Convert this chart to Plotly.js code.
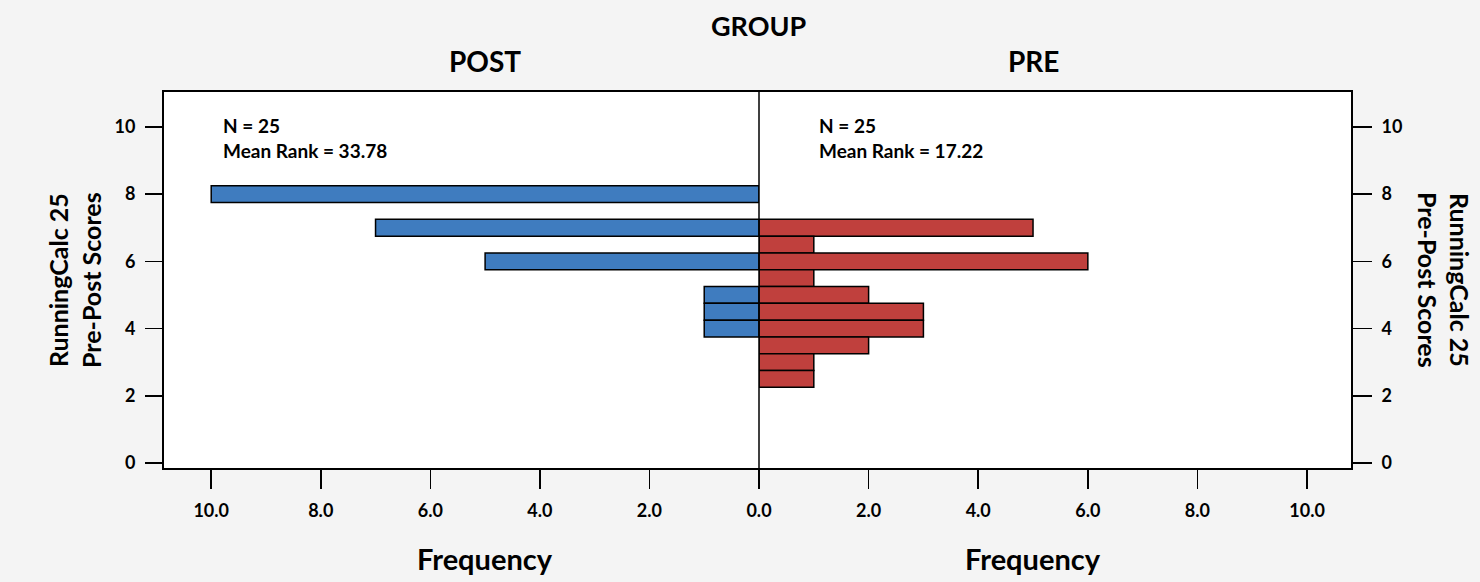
<!DOCTYPE html>
<html>
<head>
<meta charset="utf-8">
<script src="https://cdn.plot.ly/plotly-3.0.1.min.js"></script>
<style>html,body{margin:0;padding:0;background:#f4f4f4;}#chart{width:1480px;height:582px;}</style>
</head>
<body>
<div id="chart"></div>
<script>
// Bin centres (score) and frequencies
const postScores = [8, 7, 6, 5, 4.5, 4];
const postFreq   = [10, 7, 5, 1, 1, 1];
const preScores  = [7, 6.5, 6, 5.5, 5, 4.5, 4, 3.5, 3, 2.5];
const preFreq    = [5, 1, 6, 1, 2, 3, 3, 2, 1, 1];
const groups = ['POST', 'PRE'];
const nCounts = [25, 25];
const meanRanks = ['33.78', '17.22'];
const xTicks = [0, 2, 4, 6, 8, 10];
const yTicks = [0, 2, 4, 6, 8, 10];

const F = 'Lato, "Open Sans", sans-serif';
const bold = (size) => ({family: F, size: size, color: '#000', weight: 'bold'});

const traces = [
  {type: 'bar', orientation: 'h', y: postScores, x: postFreq, width: 0.5,
   xaxis: 'x', yaxis: 'y',
   marker: {color: '#3f7cbf', line: {color: '#000', width: 1.5}}, hoverinfo: 'skip'},
  {type: 'bar', orientation: 'h', y: preScores, x: preFreq, width: 0.5,
   xaxis: 'x2', yaxis: 'y',
   marker: {color: '#c0403d', line: {color: '#000', width: 1.5}}, hoverinfo: 'skip'},
  // invisible trace to carry the right y axis
  {type: 'scatter', x: [null], y: [null], xaxis: 'x2', yaxis: 'y2', showlegend: false, hoverinfo: 'skip'}
];

const split = (759 - 163) / 1189;
const yr = [-0.18, 11.07];

const layout = {
  width: 1480, height: 582,
  margin: {l: 163, r: 128, t: 91, b: 113},
  paper_bgcolor: '#f4f4f4', plot_bgcolor: '#ffffff',
  showlegend: false,
  bargap: 0,
  xaxis: {domain: [0, split], range: [10.88, 0], tickvals: xTicks, tickformat: '.1f',
          ticks: 'outside', ticklen: 19, tickwidth: 1.5, tickcolor: '#000', ticklabelstandoff: 6,
          showgrid: false, zeroline: false, showline: false, tickfont: bold(18), anchor: 'y'},
  xaxis2: {domain: [split, 1], range: [0, 10.82], tickvals: xTicks.slice(1), tickformat: '.1f',
          ticks: 'outside', ticklen: 19, tickwidth: 1.5, tickcolor: '#000', ticklabelstandoff: 6,
          showgrid: false, zeroline: false, showline: false, tickfont: bold(18), anchor: 'y'},
  yaxis: {range: yr, tickvals: yTicks, ticks: 'outside', ticklen: 17, tickwidth: 1.5, tickcolor: '#000',
          showgrid: false, zeroline: false, showline: false, tickfont: bold(18), ticklabelstandoff: 6},
  yaxis2: {range: yr, tickvals: yTicks, ticks: 'outside', ticklen: 19, tickwidth: 1.5, tickcolor: '#000',
          overlaying: 'y', side: 'right', anchor: 'x2',
          showgrid: false, zeroline: false, showline: false, tickfont: bold(18), ticklabelstandoff: 6},
  shapes: [
    {type: 'rect', xref: 'paper', yref: 'paper', x0: 0, x1: 1, y0: 0, y1: 1,
     line: {color: '#000', width: 2}, layer: 'above'},
    {type: 'line', xref: 'paper', yref: 'paper', x0: split, x1: split, y0: 0, y1: 1,
     line: {color: '#000', width: 1.5}, layer: 'above'}
  ],
  annotations: [
    {text: 'GROUP', xref: 'paper', yref: 'paper', x: split, y: 1, yshift: 66,
     showarrow: false, font: bold(27), xanchor: 'center', yanchor: 'middle'},
    {text: groups[0], xref: 'x', yref: 'paper', x: 5, y: 1, yshift: 30,
     showarrow: false, font: bold(28), xanchor: 'center', yanchor: 'middle'},
    {text: groups[1], xref: 'x2', yref: 'paper', x: 5, y: 1, yshift: 30,
     showarrow: false, font: bold(28), xanchor: 'center', yanchor: 'middle'},
    {text: 'Frequency', xref: 'x', yref: 'paper', x: 5, y: 0, yshift: -89,
     showarrow: false, font: bold(29), xanchor: 'center', yanchor: 'middle'},
    {text: 'Frequency', xref: 'x2', yref: 'paper', x: 5, y: 0, yshift: -89,
     showarrow: false, font: bold(29), xanchor: 'center', yanchor: 'middle'},
    {text: 'N = ' + nCounts[0] + '<br>Mean Rank = ' + meanRanks[0], xref: 'x', yref: 'y', x: 10, y: 9.66,
     xshift: 10, showarrow: false, font: bold(19), align: 'left', xanchor: 'left', yanchor: 'middle'},
    {text: 'N = ' + nCounts[1] + '<br>Mean Rank = ' + meanRanks[1], xref: 'x2', yref: 'y', x: 1.05, y: 9.66,
     showarrow: false, font: bold(19), align: 'left', xanchor: 'left', yanchor: 'middle'},
    {text: 'RunningCalc 25<br>Pre-Post Scores', xref: 'paper', yref: 'paper', x: 0, y: 0.5, xshift: -89,
     textangle: -90, showarrow: false, font: bold(25), xanchor: 'center', yanchor: 'middle'},
    {text: 'RunningCalc 25<br>Pre-Post Scores', xref: 'paper', yref: 'paper', x: 1, y: 0.5, xshift: 92,
     textangle: 90, showarrow: false, font: bold(25), xanchor: 'center', yanchor: 'middle'}
  ]
};

Plotly.newPlot('chart', traces, layout, {displayModeBar: false, staticPlot: true});
</script>
</body>
</html>
